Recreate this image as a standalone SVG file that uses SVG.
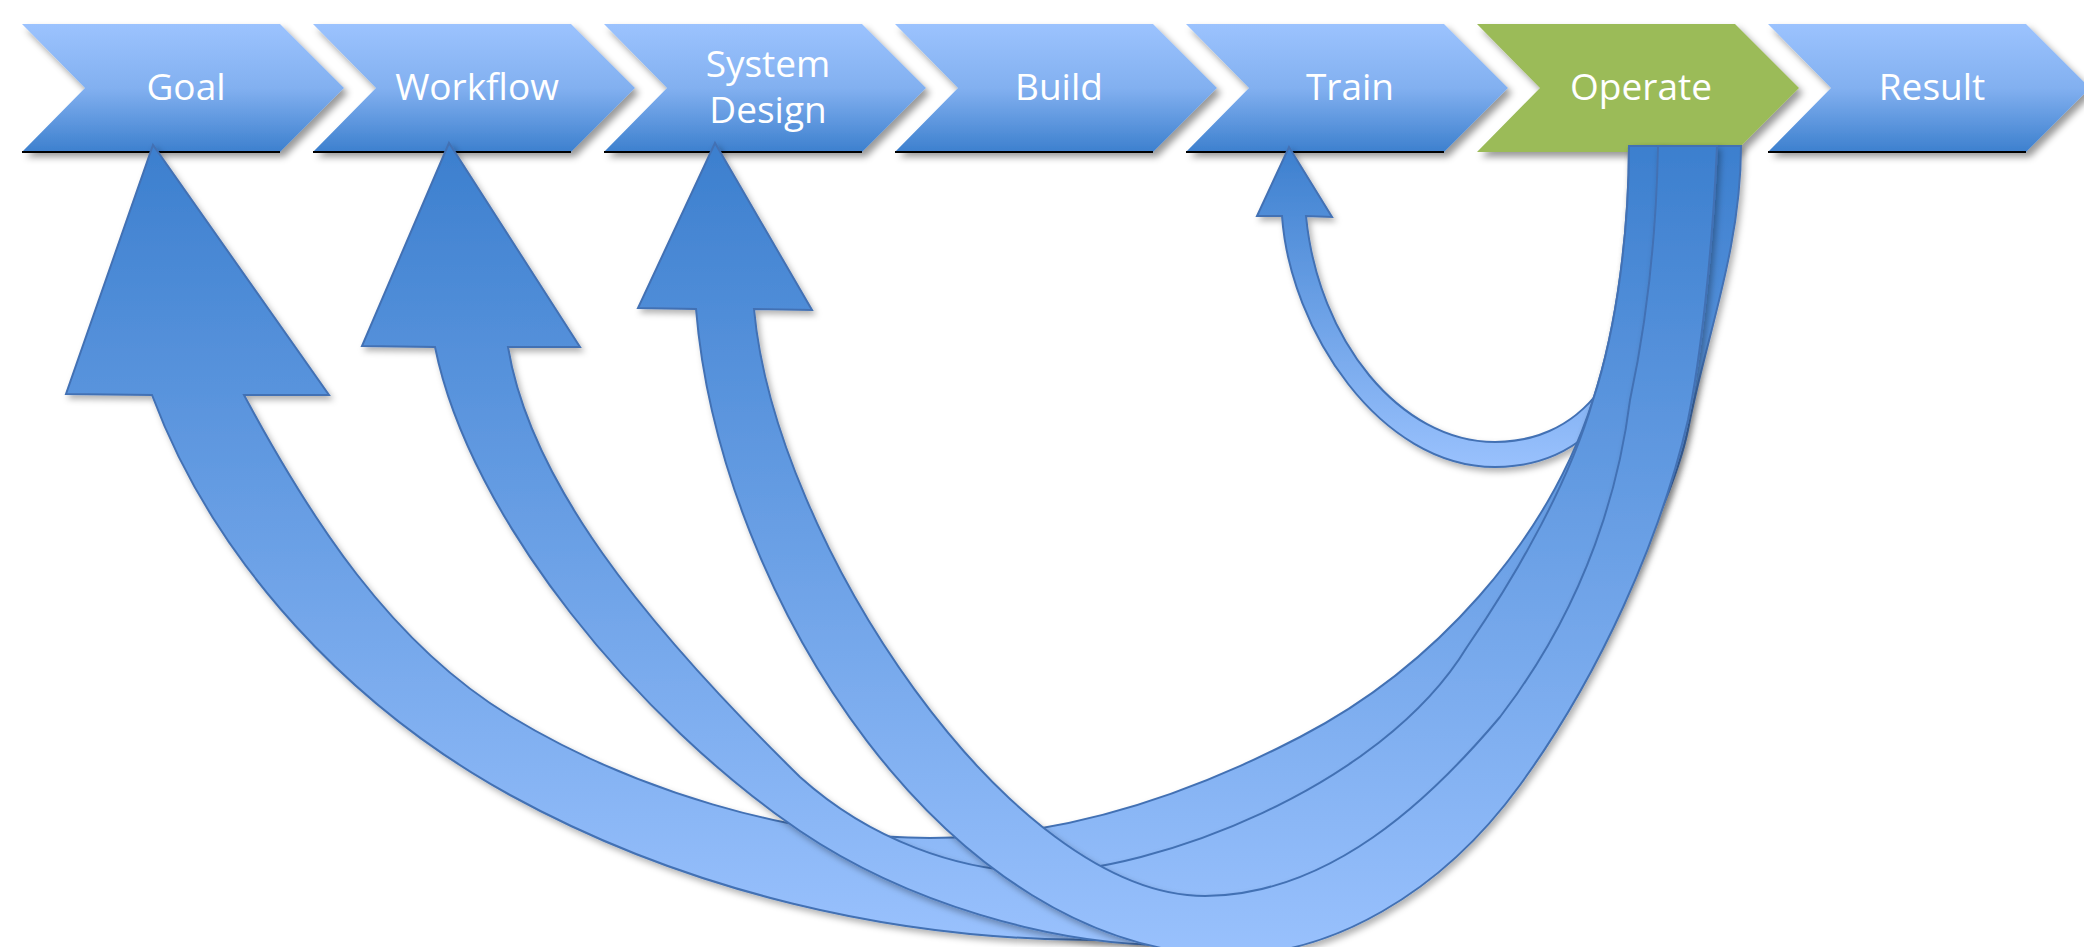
<svg xmlns="http://www.w3.org/2000/svg" width="2084" height="947" viewBox="0 0 2084 947">
<defs>
<linearGradient id="gChev" x1="0" y1="0" x2="0" y2="1">
<stop offset="0" stop-color="#9CC3FE"/><stop offset="0.5" stop-color="#82B0F0"/><stop offset="1" stop-color="#3D80CE"/>
</linearGradient>
<linearGradient id="gArrow" x1="0" y1="0" x2="0" y2="1">
<stop offset="0" stop-color="#3C7FCE"/><stop offset="1" stop-color="#99C1FD"/>
</linearGradient>
<filter id="shChev" x="-10%" y="-20%" width="130%" height="150%">
<feDropShadow dx="4" dy="5" stdDeviation="3.5" flood-color="#000" flood-opacity="0.4"/>
</filter>
<filter id="shArrow" x="-10%" y="-10%" width="130%" height="130%">
<feDropShadow dx="3" dy="4" stdDeviation="3" flood-color="#000" flood-opacity="0.3"/>
</filter>
<path id="chev" d="M0,24 L258,24 L322,88 L258,152 L0,152 L63,88 Z"/>
<style>
.blue{fill:url(#gChev)}
.green{fill:#9BBB59}
.base{stroke:#000;stroke-width:2;fill:none}
.lbl{font-family:"Open Sans","Liberation Sans",sans-serif;font-size:37px;fill:#FFFFFF;text-anchor:middle}
.arr{fill:url(#gArrow);stroke:#4371B4;stroke-width:2;stroke-linejoin:miter}
</style>
</defs>
<rect width="2084" height="947" fill="#FFFFFF"/>

<g id="node-goal" transform="translate(22,0)">
<use href="#chev" class="blue" filter="url(#shChev)"/>
<line class="base" x1="0" y1="152" x2="258" y2="152"/>
<text class="lbl" x="164" y="100">Goal</text>
</g>
<g id="node-workflow" transform="translate(313,0)">
<use href="#chev" class="blue" filter="url(#shChev)"/>
<line class="base" x1="0" y1="152" x2="258" y2="152"/>
<text class="lbl" x="164" y="100">Workflow</text>
</g>
<g id="node-system-design" transform="translate(604,0)">
<use href="#chev" class="blue" filter="url(#shChev)"/>
<line class="base" x1="0" y1="152" x2="258" y2="152"/>
<text class="lbl" x="164" y="77">System</text>
<text class="lbl" x="164" y="123">Design</text>
</g>
<g id="node-build" transform="translate(895,0)">
<use href="#chev" class="blue" filter="url(#shChev)"/>
<line class="base" x1="0" y1="152" x2="258" y2="152"/>
<text class="lbl" x="164" y="100">Build</text>
</g>
<g id="node-train" transform="translate(1186,0)">
<use href="#chev" class="blue" filter="url(#shChev)"/>
<line class="base" x1="0" y1="152" x2="258" y2="152"/>
<text class="lbl" x="164" y="100">Train</text>
</g>
<g id="node-operate" transform="translate(1477,0)">
<use href="#chev" class="green" filter="url(#shChev)"/>
<text class="lbl" x="164" y="100">Operate</text>
</g>
<g id="node-result" transform="translate(1768,0)">
<use href="#chev" class="blue" filter="url(#shChev)"/>
<line class="base" x1="0" y1="152" x2="258" y2="152"/>
<text class="lbl" x="164" y="100">Result</text>
</g>

<g id="connectors">
<path id="arrow-train" class="arr" filter="url(#shArrow)" d="M1640,146 L1664,146 C1664,220 1650,300 1630,370 C1610,430 1560,467 1495,467 C1380,467 1290,330 1282,216 L1257,216 L1289,147 L1332,217 L1306,216 C1318,340 1400,442 1495,442 C1530,442 1570,430 1600,390 C1625,330 1640,230 1640,146 Z"/>
<path id="arrow-goal" class="arr" filter="url(#shArrow)" d="M1629,146 L1721,146 C1721,300 1680,470 1600,620 C1500,800 1320,940 1093,940 C893,940 685,891 510,795 C352,708 215,564 152,395 L66,394 L153,145 L329,395 L244,395 C310,518 390,643 510,716 C630,789 790,838 930,838 C1060,838 1185,797 1300,737 C1433,668 1547,543 1593,400 C1618,324 1629,226 1629,146 Z"/>
<path id="arrow-workflow" class="arr" filter="url(#shArrow)" d="M1629,146 L1741,146 C1741,250 1705,340 1688,430 C1680,470 1650,545 1600,640 C1520,790 1350,945 1170,945 C1050,945 905,902 800,831 C640,722 470,520 435,347 L362,346 L449,143 L580,347 L508,347 C530,480 640,620 800,777 C870,840 960,872 1040,872 C1150,872 1380,790 1467,647 C1520,570 1570,480 1593,400 C1618,324 1629,226 1629,146 Z"/>
<path id="arrow-system-design" class="arr" filter="url(#shArrow)" d="M1658,146 L1717,146 C1712,260 1700,360 1688,420 C1660,540 1600,675 1520,785 C1440,895 1330,955 1230,955 C950,955 720,600 696,309 L638,308 L715,143 L812,310 L754,309 C775,540 1010,896 1205,896 C1330,895 1430,800 1500,717 C1590,600 1620,480 1630,400 C1645,330 1656,250 1658,146 Z"/>
</g>
</svg>
